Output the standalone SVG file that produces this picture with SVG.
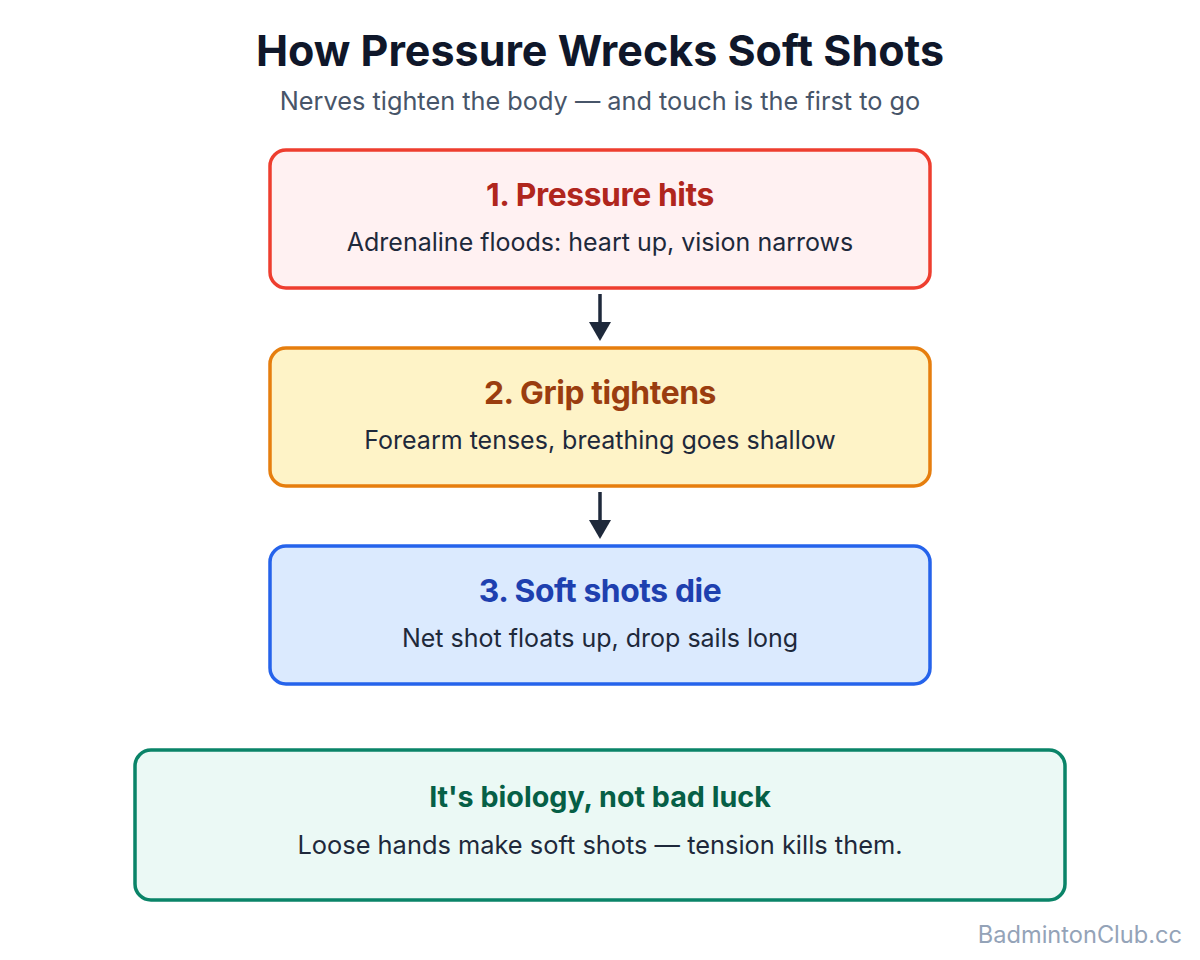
<svg xmlns="http://www.w3.org/2000/svg" width="1200" height="960" viewBox="0 0 1200 960">
<style>
text{font-family:Inter,"Noto Sans","Liberation Sans",sans-serif;text-anchor:middle}
.t{font-size:43px;font-weight:700;fill:#0f172a}
.s{font-size:25.3px;fill:#475569}
.h{font-size:31.8px;font-weight:700;letter-spacing:-0.4px}
.d{font-size:25px;fill:#1e293b}
.box{stroke-width:3.5}
.c{stroke:#1e293b;stroke-width:3.5;fill:none}
</style>
<rect width="1200" height="960" fill="#ffffff"/>
<text class="t" x="600" y="66">How Pressure Wrecks Soft Shots</text>
<text class="s" x="600" y="110">Nerves tighten the body — and touch is the first to go</text>
<g id="connectors">
<line class="c" x1="600" y1="294" x2="600" y2="326"/>
<path d="M589,322 L611,322 L600,341 Z" fill="#1e293b"/>
<line class="c" x1="600" y1="492" x2="600" y2="524"/>
<path d="M589,520 L611,520 L600,539 Z" fill="#1e293b"/>
</g>
<g id="node1">
<rect class="box" x="270" y="150" width="660" height="138" rx="16" fill="#fff1f2" stroke="#ee3e2f"/>
<text class="h" x="600" y="206" fill="#b0261d">1. Pressure hits</text>
<text class="d" x="600" y="251">Adrenaline floods: heart up, vision narrows</text>
</g>
<g id="node2">
<rect class="box" x="270" y="348" width="660" height="138" rx="16" fill="#fef3c7" stroke="#e67e0e"/>
<text class="h" x="600" y="404" fill="#9a3d0f">2. Grip tightens</text>
<text class="d" x="600" y="449">Forearm tenses, breathing goes shallow</text>
</g>
<g id="node3">
<rect class="box" x="270" y="546" width="660" height="138" rx="16" fill="#dbeafe" stroke="#2563eb"/>
<text class="h" x="600" y="602" fill="#1e40af">3. Soft shots die</text>
<text class="d" x="600" y="647">Net shot floats up, drop sails long</text>
</g>
<g id="node4">
<rect class="box" x="135" y="750" width="930" height="150" rx="16" fill="#ebf9f5" stroke="#0a8468"/>
<text class="h" x="600" y="807" fill="#065f46" style="font-size:28.7px;letter-spacing:0">It's biology, not bad luck</text>
<text class="d" x="600" y="854" style="font-size:25.4px">Loose hands make soft shots — tension kills them.</text>
</g>
<text x="1182" y="943" style="text-anchor:end;font-size:23.6px;fill:#94a3b8">BadmintonClub.cc</text>
</svg>
